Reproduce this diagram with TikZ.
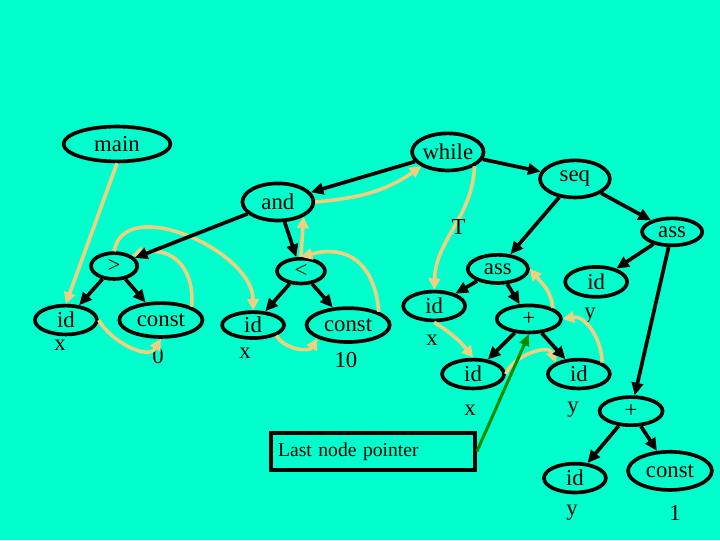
\documentclass[tikz,border=0pt]{standalone}
\usepackage{fontspec}
\setmainfont{Liberation Serif}
\usetikzlibrary{arrows.meta,shapes.geometric}
\definecolor{sea}{RGB}{0,255,204}
\definecolor{thread}{RGB}{240,208,128}
\definecolor{ptrgreen}{RGB}{0,140,0}

\begin{document}
\begin{tikzpicture}[font=\fontsize{18}{20}\selectfont]
        \fill[sea] (0,0) rectangle (20,15);

        \begin{scope}[every node/.style={ellipse,draw,line width=2.9pt,inner sep=0pt,
                                         minimum width=1.72cm,minimum height=0.8cm}]
            \node (main) [minimum width=2.97cm,minimum height=0.97cm] at (3.25,11.0) {main};
            \node (while) [minimum width=1.94cm,minimum height=1.03cm] at (12.44,10.78) {while};
            \node (seq) [minimum width=1.94cm,minimum height=1.03cm] at (15.97,10.03) {seq};
            \node (and) [minimum width=1.97cm,minimum height=1.03cm] at (7.72,9.39) {and};
            \node (assR) [minimum width=1.67cm,minimum height=0.75cm] at (18.67,8.56) {ass};
            \node (assM) [minimum width=1.67cm,minimum height=0.78cm] at (13.83,7.53) {ass};
            \node (gt) [minimum width=1.28cm,minimum height=0.72cm] at (3.17,7.61) {>};
            \node (lt) [minimum width=1.33cm,minimum height=0.69cm] at (8.36,7.47) {<};
            \node (idA) at (1.83,6.11) {id};
            \node (constA) [minimum width=2.31cm,minimum height=0.94cm] at (4.47,6.11) {const};
            \node (idB) [minimum height=0.72cm] at (7.03,5.97) {id};
            \node (constB) [minimum width=2.31cm,minimum height=0.94cm] at (9.67,5.97) {const};
            \node (idC) at (12.06,6.5) {id};
            \node (plusM) [minimum width=1.78cm,minimum height=0.75cm] at (14.69,6.14) {+};
            \node (idD) at (13.14,4.61) {id};
            \node (idE) at (16.08,4.61) {id};
            \node (idF) [minimum height=0.83cm] at (16.56,7.17) {id};
            \node (plusR) [minimum width=1.75cm,minimum height=0.78cm] at (17.53,3.58) {+};
            \node (idG) at (15.97,1.72) {id};
            \node (constC) [minimum width=2.33cm,minimum height=1.06cm] at (18.61,1.92) {const};
        \end{scope}

        \node (lastptr) [draw,line width=2.9pt,inner sep=0.2cm,text width=5.27cm,align=left,
                         minimum height=1.03cm,font=\fontsize{15.5}{18}\selectfont]
              at (10.36,2.46) {Last node pointer};

        \begin{scope}[every node/.style={inner sep=0pt}]
            \node (xA) at (1.67,5.42) {x};
            \node (valA) at (4.39,5.1) {0};
            \node (xB) at (6.81,5.19) {x};
            \node (valB) at (9.61,5.0) {10};
            \node (xC) at (12.0,5.56) {x};
            \node (xD) at (13.06,3.61) {x};
            \node (yE) at (15.92,3.61) {y};
            \node (yF) at (16.39,6.22) {y};
            \node (yG) at (15.89,0.75) {y};
            \node (valC) at (18.75,0.75) {1};
        \end{scope}

        % threading through the tree
        \begin{scope}[>={Triangle[length=9pt,width=9pt]},
                      every edge/.style={draw=thread,line width=2.8pt}]
            \path [->] (main.south) edge (idA.north);
            \path [->] (idA.east) edge[out=-60,in=-120] (constA.south);
            \path [->] (constA.north east) edge[out=85,in=15,looseness=1.3] (gt.north east);
            \path [->] (gt.north) edge[out=80,in=90] (idB.north);
            \path [->] (idB.south east) edge[out=-60,in=-120] (constB.south west);
            \path [->] (constB.north east) edge[out=95,in=15,looseness=1.3] (lt.north);
            \path [->] (lt.north) edge (and.-30);
            \path [->] (and.east) edge[out=5,in=-145] (while.south west);
            \path [->] (while.south east) edge[out=-92,in=88] (idC.north);
            \path [->] (idC.south) edge[bend left=10] (idD.north);
            \path [->] (idD.east) edge[out=70,in=110] (idE.north west);
            \path [->] (idE.north east) edge[out=90,in=10] (plusM.east);
            \path [->] (plusM.north east) edge[out=95,in=-50] (assM.east);
        \end{scope}
        \node (T) [inner sep=0pt] at (12.74,8.69) {T};

        \begin{scope}[>={Triangle[length=10pt,width=9pt]},
                      every edge/.style={draw=black,line width=2.9pt}]
            \path [->] (while) edge (and);
            \path [->] (while) edge (seq);
            \path [->] (seq) edge (assM);
            \path [->] (seq) edge (assR);
            \path [->] (and) edge (gt);
            \path [->] (and) edge (lt);
            \path [->] (gt) edge (idA);
            \path [->] (gt) edge (constA);
            \path [->] (lt) edge (idB);
            \path [->] (lt) edge (constB);
            \path [->] (assM) edge (idC);
            \path [->] (assM) edge (plusM);
            \path [->] (plusM) edge (idD);
            \path [->] (plusM) edge (idE);
            \path [->] (assR) edge (idF);
            \path [->] (assR) edge (plusR);
            \path [->] (plusR) edge (idG);
            \path [->] (plusR) edge (constC);
        \end{scope}

        \begin{scope}[>={Triangle[length=9pt,width=8pt]},
                      every edge/.style={draw=ptrgreen,line width=2.4pt}]
            \path [->] (lastptr.east) edge (plusM.south);
        \end{scope}
    \end{tikzpicture}
\end{document}
